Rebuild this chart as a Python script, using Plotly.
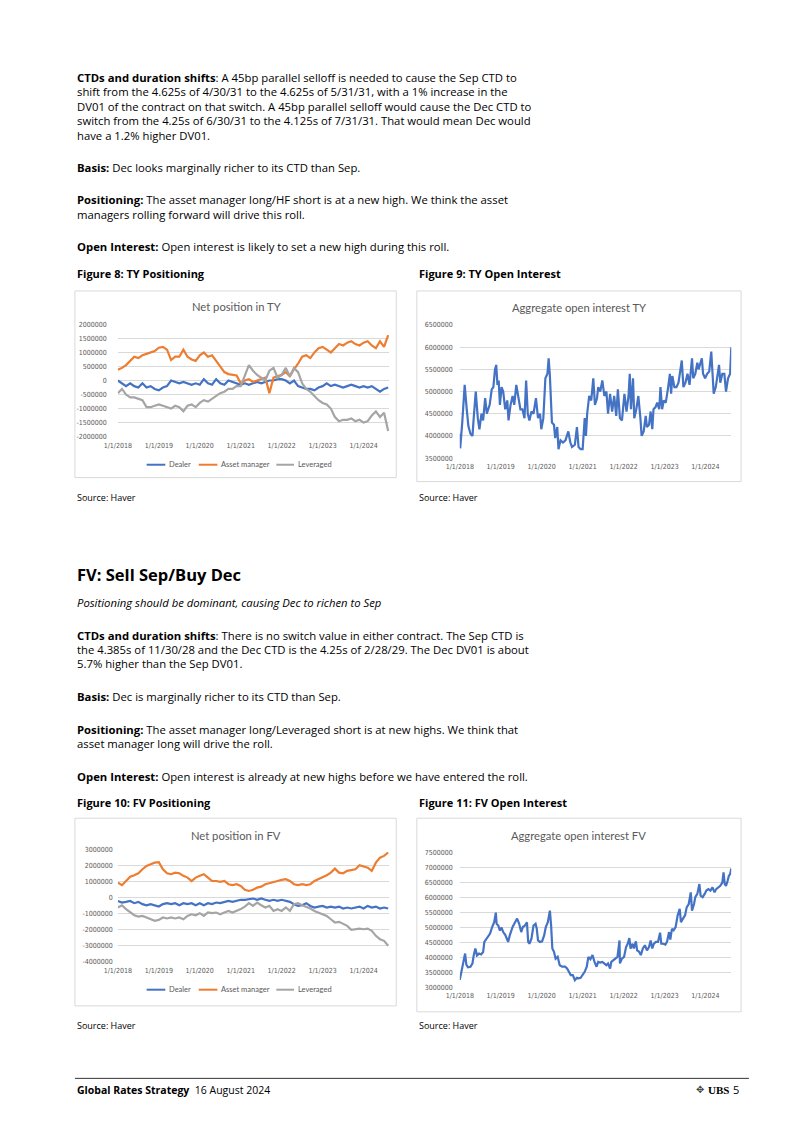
import plotly.graph_objects as go
import pandas as pd

W, H = 802, 1134

# ---------------- data ----------------
# sample points: years after 1 Jan 2018
pos_years = [round(i * 0.1, 1) for i in range(67)]

# TY net positions (thousands of contracts)
ty_dealer_k = [0, -100, -200, -100, -200, -250, -100, -250, -200, -300,
               -350, -250, -200, 0, -50, -100, -50, -100, -150, -100,
               -150, 50, -100, -150, 50, -100, -150, 0, -50, -100,
               -150, -100, -150, -100, -50, -100, -50, 0, 0, 50,
               50, 0, -100, 0, -200, -250, -300, -300, -350, -250,
               -200, -100, -200, -150, -200, -250, -200, -150, -200, -250,
               -200, -250, -200, -300, -400, -300, -250]
ty_am_k = [380, 450, 550, 700, 850, 800, 900, 950, 1000, 1050,
           1170, 1200, 1100, 730, 850, 850, 1100, 850, 750, 700,
           900, 1000, 850, 900, 700, 500, 300, 230, 200, 180,
           -100, 0, 50, -50, 0, 50, 100, -450, 100, 150,
           200, 300, 150, 400, 600, 850, 900, 800, 1000, 1150,
           1200, 1100, 1000, 1150, 1300, 1250, 1350, 1400, 1300, 1250,
           1350, 1400, 1250, 1150, 1400, 1200, 1620]
ty_lev_k = [-450, -300, -500, -600, -600, -650, -700, -950, -950, -900,
            -850, -900, -950, -1000, -900, -950, -1100, -900, -850, -950,
            -800, -700, -750, -650, -550, -450, -400, -300, -300, -200,
            -200, 200, 550, 350, 200, 100, 0, 350, 450, 100,
            200, 450, 150, 450, 300, -100, -300, -400, -550, -700,
            -800, -850, -1000, -1300, -1450, -1400, -1400, -1350, -1450, -1400,
            -1500, -1450, -1250, -1100, -1300, -1150, -1800]

# FV net positions (millions of contracts)
fv_dealer_m = [-0.21, -0.31, -0.27, -0.21, -0.35, -0.27, -0.41, -0.48, -0.41, -0.48,
               -0.56, -0.41, -0.35, -0.41, -0.35, -0.48, -0.35, -0.41, -0.35, -0.48,
               -0.35, -0.48, -0.35, -0.41, -0.31, -0.35, -0.27, -0.21, -0.27, -0.21,
               -0.14, -0.14, -0.10, -0.06, -0.14, -0.06, -0.14, -0.21, -0.14, -0.21,
               -0.14, -0.21, -0.27, -0.41, -0.52, -0.48, -0.35, -0.52, -0.62, -0.56,
               -0.52, -0.62, -0.56, -0.62, -0.56, -0.68, -0.62, -0.68, -0.62, -0.56,
               -0.68, -0.52, -0.62, -0.56, -0.68, -0.62, -0.68]
fv_am_m = [0.93, 0.77, 1.03, 1.30, 1.39, 1.51, 1.76, 1.97, 2.07, 2.17,
           2.20, 1.76, 1.51, 1.45, 1.55, 1.51, 1.35, 1.24, 1.03, 1.24,
           1.35, 1.45, 1.24, 1.03, 1.03, 0.97, 1.03, 0.83, 0.77, 0.83,
           0.72, 0.48, 0.41, 0.48, 0.62, 0.68, 0.83, 0.89, 0.93, 1.03,
           1.10, 1.14, 1.03, 0.83, 0.77, 0.83, 0.77, 0.83, 1.03, 1.14,
           1.24, 1.39, 1.55, 1.80, 1.55, 1.51, 1.66, 1.72, 1.76, 2.01,
           1.93, 1.86, 1.66, 2.17, 2.48, 2.59, 2.80]
fv_lev_m = [-0.62, -0.48, -0.72, -0.93, -1.10, -1.18, -1.14, -1.24, -1.35, -1.45,
            -1.39, -1.24, -1.30, -1.24, -1.30, -1.24, -1.35, -1.14, -1.04, -1.10,
            -0.97, -1.14, -0.93, -0.97, -0.93, -1.04, -0.93, -0.83, -0.93, -0.83,
            -0.72, -0.56, -0.35, -0.52, -0.31, -0.48, -0.62, -0.52, -0.83, -0.72,
            -0.83, -0.62, -0.83, -0.41, -0.35, -0.48, -0.56, -0.68, -0.83, -0.93,
            -1.04, -1.14, -1.35, -1.55, -1.51, -1.66, -1.76, -2.01, -1.97, -1.93,
            -1.97, -1.93, -2.07, -2.38, -2.59, -2.69, -3.00]

# TY aggregate open interest (years after 1 Jan 2018, millions)
ty_oi_years = [0.00, 0.01, 0.06, 0.12, 0.17, 0.21, 0.26, 0.31, 0.34, 0.39,
               0.44, 0.48, 0.53, 0.57, 0.62, 0.66, 0.73, 0.78, 0.82, 0.86,
               0.89, 0.92, 0.95, 0.98, 1.02, 1.06, 1.11, 1.16, 1.19, 1.24,
               1.29, 1.33, 1.38, 1.43, 1.48, 1.53, 1.58, 1.62, 1.66, 1.70,
               1.75, 1.80, 1.86, 1.91, 1.96, 1.99, 2.04, 2.09, 2.14, 2.17,
               2.20, 2.25, 2.30, 2.33, 2.38, 2.41, 2.46, 2.52, 2.58, 2.65,
               2.70, 2.74, 2.81, 2.86, 2.90, 2.95, 3.00, 3.05, 3.08, 3.11,
               3.16, 3.21, 3.26, 3.30, 3.35, 3.38, 3.43, 3.48, 3.53, 3.58,
               3.62, 3.67, 3.72, 3.77, 3.82, 3.86, 3.91, 3.96, 4.02, 4.07,
               4.12, 4.15, 4.18, 4.23, 4.26, 4.31, 4.36, 4.41, 4.44, 4.49,
               4.54, 4.57, 4.62, 4.66, 4.70, 4.73, 4.78, 4.82, 4.87, 4.90,
               4.94, 4.98, 5.03, 5.08, 5.13, 5.16, 5.19, 5.24, 5.29, 5.34,
               5.38, 5.42, 5.46, 5.51, 5.56, 5.61, 5.67, 5.70, 5.75, 5.80,
               5.83, 5.88, 5.91, 5.94, 5.99, 6.04, 6.09, 6.14, 6.17, 6.20,
               6.25, 6.30, 6.33, 6.36, 6.41, 6.46, 6.50, 6.55, 6.60, 6.63]
ty_oi_m = [4.05, 3.72, 4.3, 5.15, 4.6, 4.22, 4.05, 4.0, 4.4, 5.0,
           4.4, 4.15, 4.5, 4.35, 4.85, 4.5, 4.7, 5.05, 5.1, 5.5,
           5.6, 5.15, 5.25, 4.7, 5.1, 5.0, 4.6, 4.8, 4.35, 4.7,
           4.9, 4.7, 5.15, 4.9, 4.6, 4.6, 4.4, 5.25, 4.5, 4.35,
           4.55, 4.5, 4.85, 4.4, 4.5, 4.15, 4.4, 5.3, 5.4, 5.75,
           5.35, 4.3, 4.25, 3.95, 4.2, 3.7, 3.9, 3.85, 3.9, 4.1,
           3.85, 3.75, 3.8, 4.2, 3.75, 3.7, 3.7, 4.4, 4.0, 4.5,
           4.9, 4.8, 5.3, 4.7, 4.85, 5.1, 5.0, 5.25, 4.9, 5.0,
           4.5, 4.95, 4.55, 4.9, 4.45, 5.05, 4.4, 4.35, 4.95, 4.55,
           4.9, 5.4, 4.6, 5.3, 4.4, 4.6, 4.9, 4.4, 4.0, 4.1,
           4.45, 4.2, 4.25, 4.55, 4.15, 4.6, 4.65, 4.75, 4.6, 5.1,
           4.6, 4.8, 4.75, 5.05, 5.4, 4.95, 5.35, 5.1, 5.1, 5.2,
           5.5, 5.7, 5.1, 5.2, 5.4, 5.15, 5.75, 5.3, 5.4, 5.65,
           5.5, 5.65, 5.75, 5.4, 5.3, 5.4, 5.45, 5.9, 5.35, 4.95,
           5.1, 5.5, 5.6, 5.2, 5.4, 5.4, 5.0, 5.3, 5.4, 6.0]

# FV aggregate open interest (years after 1 Jan 2018, millions)
fv_oi_years = [0.00, 0.06, 0.10, 0.13, 0.16, 0.20, 0.26, 0.31, 0.34, 0.38,
               0.42, 0.47, 0.52, 0.57, 0.60, 0.65, 0.70, 0.74, 0.79, 0.84,
               0.88, 0.90, 0.94, 0.98, 1.02, 1.06, 1.11, 1.18, 1.22, 1.29,
               1.35, 1.40, 1.45, 1.50, 1.54, 1.59, 1.64, 1.67, 1.70, 1.75,
               1.80, 1.85, 1.88, 1.91, 1.96, 2.01, 2.06, 2.10, 2.15, 2.20,
               2.23, 2.26, 2.30, 2.34, 2.39, 2.44, 2.50, 2.57, 2.62, 2.66,
               2.71, 2.76, 2.81, 2.86, 2.90, 2.95, 3.00, 3.05, 3.10, 3.14,
               3.19, 3.24, 3.29, 3.34, 3.38, 3.43, 3.48, 3.53, 3.58, 3.62,
               3.67, 3.70, 3.75, 3.80, 3.85, 3.90, 3.91, 3.96, 4.01, 4.06,
               4.10, 4.14, 4.17, 4.22, 4.25, 4.30, 4.33, 4.38, 4.42, 4.47,
               4.52, 4.57, 4.62, 4.66, 4.70, 4.74, 4.79, 4.84, 4.89, 4.92,
               4.97, 5.02, 5.06, 5.11, 5.14, 5.18, 5.22, 5.27, 5.32, 5.37,
               5.40, 5.45, 5.50, 5.54, 5.59, 5.64, 5.67, 5.72, 5.75, 5.80,
               5.85, 5.88, 5.93, 5.98, 6.02, 6.07, 6.12, 6.17, 6.22, 6.26,
               6.31, 6.36, 6.41, 6.44, 6.47, 6.50, 6.54, 6.57, 6.60, 6.63]
fv_oi_m = [3.25, 3.69, 3.85, 4.13, 3.76, 3.67, 3.69, 3.80, 4.07, 4.30,
           4.07, 4.13, 4.10, 4.18, 4.52, 4.63, 4.74, 4.80, 5.02, 5.18,
           5.50, 5.13, 5.07, 4.90, 5.00, 4.85, 4.76, 4.52, 4.74, 5.02,
           5.18, 5.30, 5.13, 4.85, 5.02, 5.07, 5.18, 4.52, 4.46, 4.63,
           5.07, 5.13, 4.96, 4.57, 4.52, 4.54, 4.74, 5.02, 5.18, 5.57,
           5.07, 4.30, 4.19, 3.96, 4.02, 3.74, 3.69, 3.69, 3.63, 3.52,
           3.41, 3.41, 3.24, 3.32, 3.30, 3.32, 3.41, 3.52, 3.69, 4.02,
           3.94, 4.08, 3.85, 3.69, 3.85, 3.83, 3.85, 3.80, 3.74, 3.80,
           3.63, 3.85, 3.91, 3.96, 4.02, 4.57, 3.80, 3.96, 4.02, 4.35,
           4.46, 4.65, 4.30, 4.46, 4.30, 4.54, 4.24, 4.19, 4.08, 4.30,
           4.41, 4.24, 4.35, 4.57, 4.30, 4.46, 4.52, 4.52, 4.83, 4.46,
           4.46, 4.43, 4.52, 4.85, 4.60, 4.96, 4.91, 5.02, 5.41, 5.63,
           5.18, 5.30, 5.41, 5.68, 5.79, 6.18, 5.57, 5.79, 6.02, 6.13,
           6.46, 6.07, 6.02, 6.13, 6.24, 6.29, 6.24, 6.35, 6.18, 6.29,
           6.35, 6.40, 6.51, 6.85, 6.46, 6.40, 6.57, 6.74, 6.79, 6.98]

series_names = ["Dealer", "Asset manager", "Leveraged"]
series_colors = ["#4472C4", "#ED7D31", "#A5A5A5"]
oi_color = "#4472C4"

year_ticks = ["2018-01-01", "2019-01-01", "2020-01-01", "2021-01-01",
              "2022-01-01", "2023-01-01", "2024-01-01"]
year_labels = ["1/1/2018", "1/1/2019", "1/1/2020", "1/1/2021",
               "1/1/2022", "1/1/2023", "1/1/2024"]

ty_pos_ticks = [-2000000, -1500000, -1000000, -500000, 0, 500000, 1000000, 1500000, 2000000]
ty_oi_ticks = [3500000, 4000000, 4500000, 5000000, 5500000, 6000000, 6500000]
fv_pos_ticks = [-4000000, -3000000, -2000000, -1000000, 0, 1000000, 2000000, 3000000]
fv_oi_ticks = [3000000, 3500000, 4000000, 4500000, 5000000, 5500000, 6000000, 6500000, 7000000, 7500000]


def to_dates(offsets):
    base = pd.Timestamp("2018-01-01")
    return [base + pd.Timedelta(days=o * 365.25) for o in offsets]


def px(x):
    return x / W


def py(y):
    return 1 - y / H


BODY = "'Open Sans', Lato, sans-serif"
CHART = "Lato, 'Open Sans', sans-serif"
TICKF = "'Liberation Sans Narrow', 'DejaVu Sans Condensed', Lato, sans-serif"
GRAY = "#595959"
BODY_SIZE = 11.3

fig = go.Figure()

pos_dates = to_dates(pos_years)
# chart 1 : TY positioning
for name, col, vals in zip(series_names, series_colors, [ty_dealer_k, ty_am_k, ty_lev_k]):
    fig.add_trace(go.Scatter(x=pos_dates, y=[v * 1000 for v in vals], mode="lines",
                             line=dict(color=col, width=2.2), name=name,
                             xaxis="x", yaxis="y", showlegend=False))
# chart 2 : TY open interest
fig.add_trace(go.Scatter(x=to_dates(ty_oi_years), y=[v * 1e6 for v in ty_oi_m], mode="lines",
                         line=dict(color=oi_color, width=2.2), xaxis="x2", yaxis="y2", showlegend=False))
# chart 3 : FV positioning
for name, col, vals in zip(series_names, series_colors, [fv_dealer_m, fv_am_m, fv_lev_m]):
    fig.add_trace(go.Scatter(x=pos_dates, y=[v * 1e6 for v in vals], mode="lines",
                             line=dict(color=col, width=2.2), name=name,
                             xaxis="x3", yaxis="y3", showlegend=False))
# chart 4 : FV open interest
fig.add_trace(go.Scatter(x=to_dates(fv_oi_years), y=[v * 1e6 for v in fv_oi_m], mode="lines",
                         line=dict(color=oi_color, width=2.2), xaxis="x4", yaxis="y4", showlegend=False))

xr = ["2018-01-01", "2024-08-18"]
tickfont = dict(family=TICKF, size=7, color=GRAY)


def xax(dom, anchor):
    return dict(domain=dom, anchor=anchor, range=xr, tickvals=year_ticks, ticktext=year_labels,
                showgrid=False, zeroline=False, showline=False, ticks="", tickfont=tickfont,
                ticklabelstandoff=3, fixedrange=True)


def yax(dom, anchor, rng, ticks, standoff):
    return dict(domain=dom, anchor=anchor, range=rng, tickvals=ticks, ticktext=[str(t) for t in ticks],
                showgrid=True, gridcolor="#D9D9D9", gridwidth=0.8, zeroline=False, showline=False,
                ticks="", tickfont=tickfont, ticklabelstandoff=standoff, fixedrange=True)


layout = dict(
    width=W, height=H, margin=dict(l=0, r=0, t=0, b=0),
    paper_bgcolor="white", plot_bgcolor="white", showlegend=False,
    xaxis=xax([px(105.7), px(382)], "y"),
    yaxis=yax([py(435.7), py(322.7)], "x", [-2000000, 2000000], ty_pos_ticks, 10),
    xaxis2=xax([px(453.7), px(730)], "y2"),
    yaxis2=yax([py(457.3), py(323.3)], "x2", [3500000, 6500000], ty_oi_ticks, 6),
    xaxis3=xax([px(105.7), px(382)], "y3"),
    yaxis3=yax([py(964.7), py(851.3)], "x3", [-4000000, 3000000], fv_pos_ticks, 4),
    xaxis4=xax([px(453.7), px(730)], "y4"),
    yaxis4=yax([py(990.3), py(855)], "x4", [3000000, 7500000], fv_oi_ticks, 6),
)
fig.update_layout(**layout)

ann = []
shapes = []


def text(x, y, s, size=BODY_SIZE, color="#000000", family=BODY, anchor="left"):
    ann.append(dict(x=px(x), y=py(y), xref="paper", yref="paper", text=s, showarrow=False,
                    xanchor=anchor, yanchor="middle", align=anchor,
                    font=dict(family=family, size=size, color=color)))


# ---- body text, TY section ----
L = 62
text(L, 74, "<b>CTDs and duration shifts</b>: A 45bp parallel selloff is needed to cause the Sep CTD to")
text(L, 88, "shift from the 4.625s of 4/30/31 to the 4.625s of 5/31/31, with a 1% increase in the")
text(L, 103, "DV01 of the contract on that switch. A 45bp parallel selloff would cause the Dec CTD to")
text(L, 117, "switch from the 4.25s of 6/30/31 to the 4.125s of 7/31/31. That would mean Dec would")
text(L, 132, "have a 1.2% higher DV01.")
text(L, 165, "<b>Basis:</b> Dec looks marginally richer to its CTD than Sep.")
text(L, 197, "<b>Positioning:</b> The asset manager long/HF short is at a new high. We think the asset")
text(L, 212, "managers rolling forward will drive this roll.")
text(L, 244, "<b>Open Interest:</b> Open interest is likely to set a new high during this roll.")
text(L, 271, "<b>Figure 8: TY Positioning</b>", size=11)
text(410, 271, "<b>Figure 9: TY Open Interest</b>", size=11)
text(L, 497, "Source: Haver", size=9)
text(410, 497, "Source: Haver", size=9)

# ---- FV section ----
text(L, 575, "<b>FV: Sell Sep/Buy Dec</b>", size=16.5)
text(L, 603, "<i>Positioning should be dominant, causing Dec to richen to Sep</i>")
text(L, 636, "<b>CTDs and duration shifts</b>: There is no switch value in either contract. The Sep CTD is")
text(L, 650, "the 4.385s of 11/30/28 and the Dec CTD is the 4.25s of 2/28/29. The Dec DV01 is about")
text(L, 664, "5.7% higher than the Sep DV01.")
text(L, 697, "<b>Basis:</b> Dec is marginally richer to its CTD than Sep.")
text(L, 731, "<b>Positioning:</b> The asset manager long/Leveraged short is at new highs. We think that")
text(L, 745, "asset manager long will drive the roll.")
text(L, 778, "<b>Open Interest:</b> Open interest is already at new highs before we have entered the roll.")
text(L, 804, "<b>Figure 10: FV Positioning</b>", size=11)
text(410, 804, "<b>Figure 11: FV Open Interest</b>", size=11)
text(L, 1029, "Source: Haver", size=9)
text(410, 1029, "Source: Haver", size=9)

# ---- chart titles ----
text(226, 305, "Net position in TY", size=11.2, color=GRAY, family=CHART, anchor="center")
text(575, 306, "Aggregate open interest TY", size=11.2, color=GRAY, family=CHART, anchor="center")
text(226, 837, "Net position in FV", size=11.2, color=GRAY, family=CHART, anchor="center")
text(575, 837, "Aggregate open interest FV", size=11.2, color=GRAY, family=CHART, anchor="center")

# ---- chart frames ----
for x0, y0, x1, y1 in [(62, 289, 389, 477), (410, 289, 740, 481), (62, 820, 389, 1009), (410, 820, 740, 1015)]:
    shapes.append(dict(type="rect", xref="paper", yref="paper", x0=px(x0), x1=px(x1), y0=py(y0), y1=py(y1),
                       line=dict(color="#D9D9D9", width=1), fillcolor="rgba(0,0,0,0)", layer="below"))

# ---- manual legends ----
for ly in (464, 992.7):
    for (lx0, lx1, tx), name, col in zip([(135, 154, 156), (188, 207, 209), (267, 285, 287)],
                                         series_names, series_colors):
        shapes.append(dict(type="line", xref="paper", yref="paper", x0=px(lx0), x1=px(lx1),
                           y0=py(ly), y1=py(ly), line=dict(color=col, width=2)))
        text(tx, ly, name, size=7.5, color=GRAY, family=CHART)

# ---- footer ----
shapes.append(dict(type="line", xref="paper", yref="paper", x0=px(62), x1=px(748), y0=py(1082), y1=py(1082),
                   line=dict(color="#333333", width=1)))
text(L, 1093.5, "<b>Global Rates Strategy</b>  16 August 2024", size=10.5)
text(730, 1093.5, "<b>UBS</b>", size=11, family="'Liberation Serif', serif", anchor="right")
text(704, 1093.5, "✥", size=10, color="#444444", family="'DejaVu Sans'", anchor="right")
text(740, 1093.5, "5", size=11, anchor="right")

fig.update_layout(annotations=ann, shapes=shapes)
fig.write_html("out.html", config={"displayModeBar": False},
               post_script="document.body.style.margin='0';document.body.style.overflow='hidden';window.scrollTo(0,0);")
